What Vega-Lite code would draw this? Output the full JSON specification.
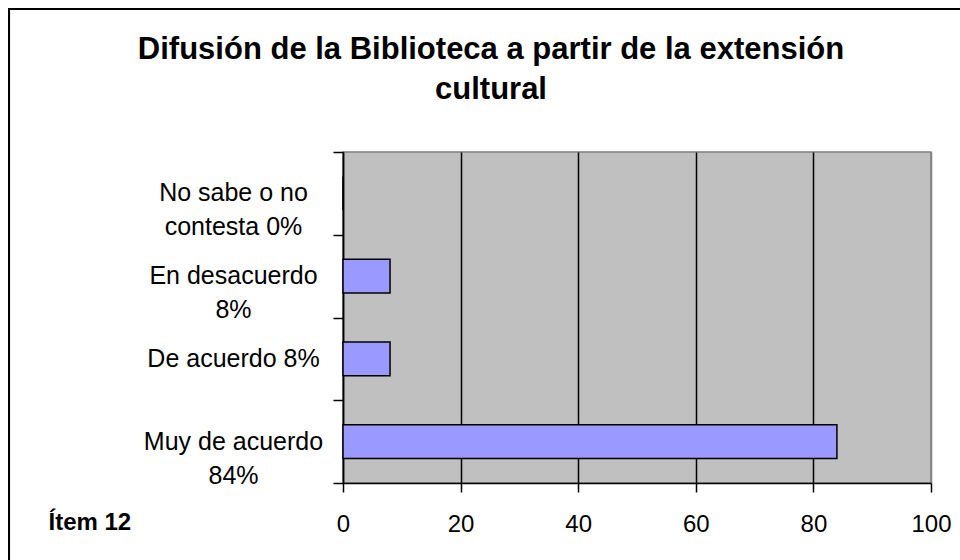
{
  "$schema": "https://vega.github.io/schema/vega-lite/v6.json",
  "width": 588,
  "height": 331,
  "autosize": {"type": "none"},
  "padding": {"left": 343, "top": 152, "right": 29, "bottom": 77},
  "background": "white",
  "title": {
    "text": ["Difusión de la Biblioteca a partir de la extensión", "cultural"],
    "font": "Liberation Sans",
    "fontSize": 31,
    "fontWeight": "bold",
    "color": "black",
    "lineHeight": 40,
    "anchor": "middle",
    "frame": "group",
    "baseline": "alphabetic",
    "dx": -146,
    "offset": -123
  },
  "data": {
    "values": [
      {"categoria": "No sabe o no contesta 0%", "porcentaje": 0},
      {"categoria": "En desacuerdo 8%", "porcentaje": 8},
      {"categoria": "De acuerdo 8%", "porcentaje": 8},
      {"categoria": "Muy de acuerdo 84%", "porcentaje": 84}
    ]
  },
  "layer": [
    {
      "mark": {"type": "bar", "fill": "#9999FF", "stroke": "black", "strokeWidth": 1.5, "height": {"band": 0.41}},
      "encoding": {
        "x": {
          "field": "porcentaje",
          "type": "quantitative",
          "scale": {"domain": [0, 100], "nice": false},
          "axis": {"title": "Ítem 12", "values": [0, 20, 40, 60, 80, 100]}
        },
        "y": {
          "field": "categoria",
          "type": "nominal",
          "sort": ["No sabe o no contesta 0%", "En desacuerdo 8%", "De acuerdo 8%", "Muy de acuerdo 84%"],
          "scale": {"paddingInner": 0, "paddingOuter": 0},
          "axis": {
            "title": null,
            "orient": "left",
            "ticks": false,
            "tickSize": 0,
            "domain": true,
            "domainColor": "black",
            "domainWidth": 1.5,
            "labelFont": "Liberation Sans",
            "labelFontSize": 25,
            "labelColor": "black",
            "labelAlign": "center",
            "labelBaseline": "middle",
            "labelPadding": 110,
            "labelLineHeight": 34,
            "labelLimit": 400,
            "labelExpr": "datum.value == 'No sabe o no contesta 0%' ? ['No sabe o no', 'contesta 0%'] : datum.value == 'En desacuerdo 8%' ? ['En desacuerdo', '8%'] : datum.value == 'Muy de acuerdo 84%' ? ['Muy de acuerdo', '84%'] : datum.value"
          }
        }
      }
    },
    {
      "layer": [
        {
          "mark": {"type": "rule", "stroke": "black", "strokeWidth": 2, "clip": false},
          "encoding": {
            "x": {"datum": -56.8, "type": "quantitative", "scale": {"domain": [0, 100], "nice": false}, "axis": {"title": "Ítem 12", "values": [0, 20, 40, 60, 80, 100]}},
            "x2": {"datum": 130},
            "y": {
              "datum": 1.432,
              "type": "quantitative",
              "scale": {"domain": [0, 1], "nice": false, "zero": false},
              "axis": {
                "orient": "left",
                "title": null,
                "values": [0, 0.25, 0.5, 0.75, 1],
                "labels": false,
                "grid": false,
                "domain": false,
                "ticks": true,
                "tickColor": "black",
                "tickWidth": 1.5,
                "tickSize": 10
              }
            }
          }
        },
        {
          "mark": {"type": "rule", "stroke": "black", "strokeWidth": 2, "clip": false},
          "encoding": {
            "x": {"datum": -56.8, "type": "quantitative"},
            "y": {"datum": -0.4, "type": "quantitative"},
            "y2": {"datum": 1.435}
          }
        }
      ]
    }
  ],
  "resolve": {"scale": {"y": "independent"}},
  "config": {
    "view": {"fill": "#C0C0C0", "stroke": "#808080", "strokeWidth": 1.5},
    "axisX": {
      "grid": true,
      "gridColor": {"condition": {"test": "datum.value == 100", "value": "#808080"}, "value": "black"},
      "gridWidth": 1.5,
      "gridOpacity": 1,
      "domainColor": "black",
      "domainWidth": 1.5,
      "tickColor": "black",
      "tickWidth": 1.5,
      "tickSize": 9,
      "labelFont": "Liberation Sans",
      "labelFontSize": 24,
      "labelColor": "black",
      "labelPadding": 20,
      "labelFlush": false,
      "titleFont": "Liberation Sans",
      "titleFontSize": 24,
      "titleFontWeight": "bold",
      "titleColor": "black",
      "titleX": -295,
      "titleY": 39,
      "titleAnchor": "start",
      "titleAlign": "left",
      "titleBaseline": "middle"
    }
  }
}
